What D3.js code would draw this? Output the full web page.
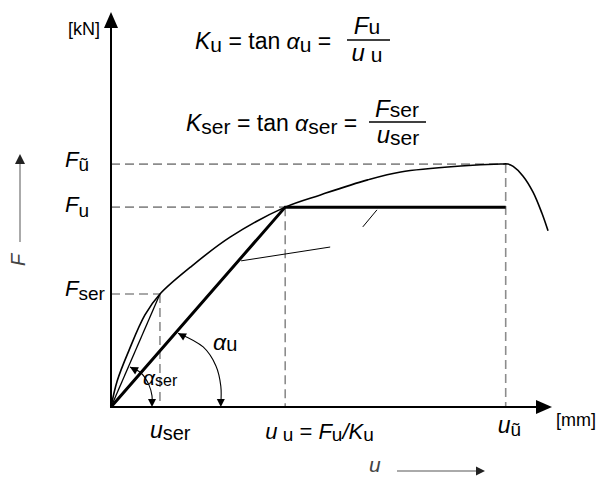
<!DOCTYPE html>
<html>
<head>
<meta charset="utf-8">
<script src="https://cdn.jsdelivr.net/npm/d3@7/dist/d3.min.js"></script>
<style>
  body { margin: 0; background: #fff; }
  text { font-family: "Liberation Sans", Arial, sans-serif; fill: #000; }
</style>
</head>
<body>
<svg id="chart" width="601" height="478"></svg>
<script>
// Load–slip curve of a connection (u in mm, F in kN, relative units)
const curveU = [0, 1.4, 4.1, 7.7, 11.1, 18.0, 27.0, 39.5, 47.5, 58.2, 65.7, 79.3, 88.4, 90.0, 91.2, 93.4, 95.7, 97.7, 99.1];
const curveF = [0, 6.6, 14.4, 23.3, 28.6, 35.4, 43.0, 50.6, 53.7, 57.5, 59.5, 61.0, 61.5, 61.5, 60.9, 58.5, 54.4, 49.1, 44.6];

// Characteristic points: serviceability, ultimate, maximum
const pointKeys = ["ser", "u", "ũ"];
const pointU = [11.1, 39.5, 89.5];
const pointF = [28.6, 50.6, 61.5];

// Angle markers (arcs between the u-axis and the secant lines)
const arcSerU = [4.3, 6.8, 8.6, 9.3, 9.3];
const arcSerF = [10.1, 8.6, 5.6, 2.8, 0.6];
const arcUltU = [15.2, 20.9, 23.8, 24.9, 24.9];
const arcUltF = [18.7, 15.2, 10.4, 5.3, 0.6];

// Thin leader strokes inside the plot
const leaderU = [[29.5, 49.7], [57.1, 60.3]];
const leaderF = [[37.0, 40.5], [45.6, 49.9]];

const svg = d3.select("#chart");
const x = d3.scaleLinear().domain([0, 100]).range([111, 552]);
const y = d3.scaleLinear().domain([0, 100]).range([407, 12]);

const dashColor = "#8c8c8c";

// ---- dashed guide lines ----
const guides = svg.append("g")
  .attr("stroke", dashColor).attr("stroke-width", 1.6)
  .attr("stroke-dasharray", "9,5").attr("fill", "none");
pointKeys.forEach((k, i) => {
  guides.append("line")
    .attr("x1", x(0)).attr("x2", x(pointU[i]))
    .attr("y1", y(pointF[i])).attr("y2", y(pointF[i]));
  guides.append("line")
    .attr("x1", x(pointU[i])).attr("x2", x(pointU[i]))
    .attr("y1", y(pointF[i])).attr("y2", y(0));
});

// ---- load–slip curve ----
const curvePts = curveU.map((u, i) => [x(u), y(curveF[i])]);
svg.append("path")
  .attr("d", d3.line().curve(d3.curveCatmullRom.alpha(0.5))(curvePts))
  .attr("fill", "none").attr("stroke", "#000").attr("stroke-width", 1.6);

// ---- secant to the serviceability point ----
svg.append("line")
  .attr("x1", x(0)).attr("y1", y(0))
  .attr("x2", x(pointU[0])).attr("y2", y(pointF[0]))
  .attr("stroke", "#000").attr("stroke-width", 1.3);

// ---- bilinear idealisation ----
svg.append("path")
  .attr("d", d3.line()([[x(0), y(0)], [x(pointU[1]), y(pointF[1])], [x(pointU[2]), y(pointF[1])]]))
  .attr("fill", "none").attr("stroke", "#000").attr("stroke-width", 3).attr("stroke-linejoin", "miter");

// ---- leader strokes ----
leaderU.forEach((us, i) => {
  svg.append("line")
    .attr("x1", x(us[0])).attr("y1", y(leaderF[i][0]))
    .attr("x2", x(us[1])).attr("y2", y(leaderF[i][1]))
    .attr("stroke", "#000").attr("stroke-width", 1);
});

// ---- arrowhead helper ----
function arrowHead(g, tip, from, len, half, fill) {
  const dx = tip[0] - from[0], dy = tip[1] - from[1];
  const d = Math.hypot(dx, dy), ux = dx / d, uy = dy / d;
  const bx = tip[0] - ux * len, by = tip[1] - uy * len;
  g.append("path")
    .attr("d", `M${tip[0]},${tip[1]}L${bx - uy * half},${by + ux * half}L${bx + uy * half},${by - ux * half}Z`)
    .attr("fill", fill || "#000");
}

// ---- angle arcs ----
function angleArc(us, fs) {
  const pts = us.map((u, i) => [x(u), y(fs[i])]);
  svg.append("path")
    .attr("d", d3.line().curve(d3.curveCatmullRom.alpha(0.5))(pts))
    .attr("fill", "none").attr("stroke", "#000").attr("stroke-width", 1.1);
  const n = pts.length;
  arrowHead(svg, pts[0], pts[1], 8, 4);
  arrowHead(svg, [pts[n - 1][0], y(0)], pts[n - 2], 8, 4);
}
angleArc(arcSerU, arcSerF);
angleArc(arcUltU, arcUltF);

// ---- axes ----
svg.append("line").attr("x1", x(0)).attr("y1", y(0)).attr("x2", x(0)).attr("y2", y(100) + 10)
  .attr("stroke", "#000").attr("stroke-width", 2);
svg.append("line").attr("x1", x(0) - 1).attr("y1", y(0)).attr("x2", x(100) - 10).attr("y2", y(0))
  .attr("stroke", "#000").attr("stroke-width", 2);
arrowHead(svg, [x(0), y(100)], [x(0), y(0)], 16, 7);
arrowHead(svg, [x(100), y(0)], [x(0), y(0)], 16, 7);

// ---- rich text helper (italic symbols with upright subscripts) ----
function rich(g, px, py, parts, size, subSize, anchor, sub) {
  const t = g.append("text").attr("x", px).attr("y", py)
    .attr("font-size", size).attr("text-anchor", anchor || "start")
    .attr("xml:space", "preserve");
  let shift = 0;
  const subDy = sub === undefined ? 4 : sub;
  parts.forEach(p => {
    const target = p.s ? subDy : 0;
    const s = t.append("tspan").text(p.t).attr("dy", target - shift);
    shift = target;
    if (p.s) s.attr("font-size", subSize);
    if (p.i) s.attr("font-style", "italic");
  });
  return t;
}

// ---- stiffness formulas ----
const fg = svg.append("g");
rich(fg, 195, 49, [{t: "K", i: 1}, {t: "u", s: 1}, {t: " = tan "}, {t: "α", i: 1}, {t: "u", s: 1}, {t: " ="}], 23, 21, "start", 3);
fg.append("line").attr("x1", 347).attr("x2", 390).attr("y1", 40).attr("y2", 40).attr("stroke", "#000").attr("stroke-width", 1.5);
rich(fg, 367, 34, [{t: "F", i: 1}, {t: "u", s: 1}], 24, 21, "middle", 0);
rich(fg, 367, 61, [{t: "u", i: 1}, {t: " u", s: 1}], 24, 21, "middle", 1);

rich(fg, 186, 131, [{t: "K", i: 1}, {t: "ser", s: 1}, {t: " = tan "}, {t: "α", i: 1}, {t: "ser", s: 1}, {t: " ="}], 23, 21, "start", 3);
fg.append("line").attr("x1", 369).attr("x2", 426).attr("y1", 122).attr("y2", 122).attr("stroke", "#000").attr("stroke-width", 1.5);
rich(fg, 397, 117, [{t: "F", i: 1}, {t: "ser", s: 1}], 24, 21, "middle", 0);
rich(fg, 398, 143, [{t: "u", i: 1}, {t: "ser", s: 1}], 24, 21, "middle", 2);

// ---- F-axis labels ----
const lg = svg.append("g");
const fLabelDy = [4, 5, 4];
pointKeys.forEach((k, i) => {
  rich(lg, x(0) - 46, y(pointF[i]) + [2, 5, 3][i], [{t: "F", i: 1}, {t: k, s: 1}], 22, 19, "start", fLabelDy[i]);
});

// ---- u-axis labels ----
rich(lg, x(pointU[0]) - 10, 438, [{t: "u", i: 1}, {t: "ser", s: 1}], 23, 20, "start", 2);
rich(lg, x(pointU[1]) - 20, 439, [{t: "u", i: 1}, {t: " u", s: 1}, {t: " = "}, {t: "F", i: 1}, {t: "u", s: 1}, {t: "/", i: 1}, {t: "K", i: 1}, {t: "u", s: 1}], 22, 19, "start", 2);
rich(lg, x(pointU[2]) - 8, 433, [{t: "u", i: 1}, {t: "ũ", s: 1}], 23, 19, "start", 3);

// ---- angle labels ----
rich(lg, 143, 385, [{t: "α", i: 1}, {t: "ser", s: 1}], 21, 16, "start", 1);
rich(lg, 213, 350, [{t: "α", i: 1}, {t: "u", s: 1}], 23, 20, "start", 1);

// ---- units ----
lg.append("text").attr("x", 100).attr("y", 35).attr("text-anchor", "end").attr("font-size", 18).text("[kN]");
lg.append("text").attr("x", 556).attr("y", 426).attr("font-size", 18).text("[mm]");

// ---- axis quantity labels with direction arrows ----
lg.append("text").attr("transform", "translate(25,260) rotate(-90)")
  .attr("text-anchor", "middle").attr("font-size", 20).attr("font-style", "italic")
  .style("fill", "#444").text("F");
svg.append("line").attr("x1", 20).attr("x2", 20).attr("y1", 242).attr("y2", 162)
  .attr("stroke", "#aaa").attr("stroke-width", 2);
arrowHead(svg, [20, 154], [20, 242], 10, 5, "#222");

lg.append("text").attr("x", 369).attr("y", 472).attr("font-size", 21).attr("font-style", "italic")
  .style("fill", "#444").text("u");
svg.append("line").attr("x1", 397).attr("x2", 477).attr("y1", 471).attr("y2", 471)
  .attr("stroke", "#aaa").attr("stroke-width", 2);
arrowHead(svg, [485, 471], [397, 471], 9, 4.5, "#222");
</script>
</body>
</html>
